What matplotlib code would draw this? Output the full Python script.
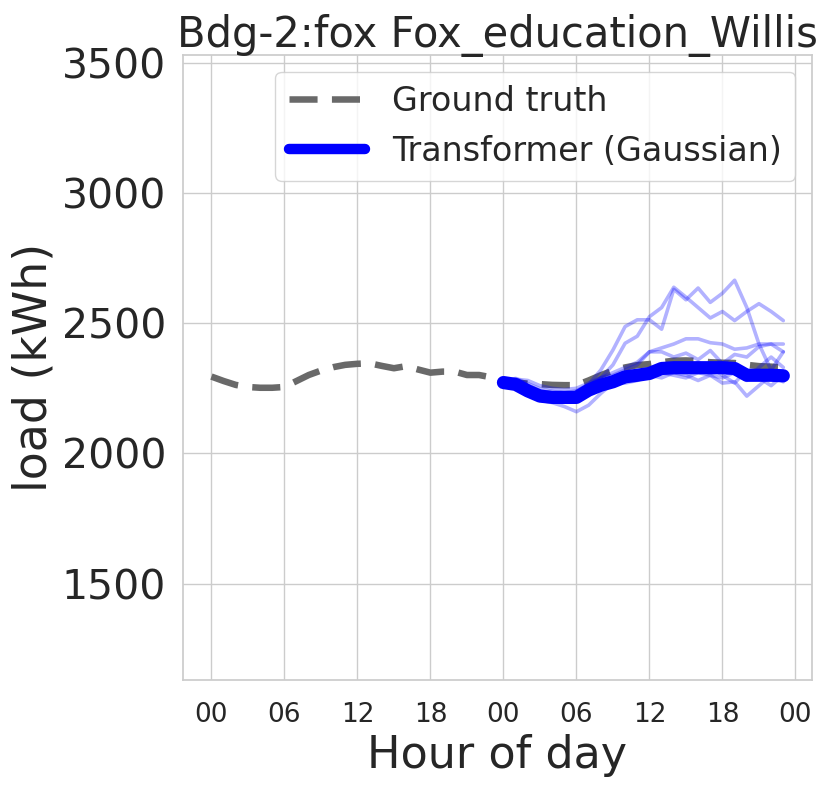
import numpy as np
import seaborn as sns
from matplotlib import pyplot as plt

sns.set_theme(style="whitegrid")
plt.rcParams['font.family'] = ['DejaVu Sans']

title = "Bdg-2:fox Fox_education_Willis"
hour_labels = ["00", "06", "12", "18", "00", "06", "12", "18", "00"]

# ground truth, hours 0..47
truth = [2295, 2278, 2263, 2255, 2252, 2252, 2255, 2278, 2301, 2318, 2331, 2340,
         2344, 2346, 2336, 2327, 2335, 2322, 2310, 2314, 2314, 2301, 2301, 2292,
         2275, 2272, 2268, 2266, 2263, 2262, 2262, 2280, 2300, 2318, 2330, 2339,
         2343, 2350, 2356, 2357, 2355, 2350, 2348, 2347, 2340, 2335, 2333, 2330]

# forecast, hours 24..47
mean = [2272, 2265, 2240, 2220, 2215, 2215, 2215, 2243, 2262, 2275, 2294, 2300,
        2307, 2326, 2329, 2329, 2329, 2329, 2329, 2326, 2300, 2300, 2300, 2298]

samples = [
    [2275, 2288, 2268, 2248, 2238, 2232, 2240, 2265, 2320, 2397, 2487, 2513,
     2513, 2477, 2630, 2590, 2635, 2580, 2615, 2665, 2560, 2420, 2320, 2390],
    [2275, 2280, 2262, 2240, 2232, 2230, 2235, 2260, 2290, 2340, 2423, 2450,
     2525, 2560, 2638, 2600, 2560, 2520, 2545, 2510, 2545, 2575, 2545, 2510],
    [2275, 2270, 2255, 2235, 2225, 2222, 2230, 2260, 2290, 2310, 2330, 2350,
     2390, 2405, 2420, 2440, 2440, 2425, 2420, 2400, 2405, 2420, 2420, 2420],
    [2275, 2285, 2280, 2260, 2250, 2245, 2250, 2270, 2290, 2300, 2320, 2340,
     2390, 2390, 2370, 2385, 2360, 2395, 2345, 2380, 2370, 2410, 2420, 2390],
    [2272, 2260, 2230, 2205, 2195, 2180, 2160, 2185, 2230, 2270, 2300, 2295,
     2290, 2310, 2300, 2290, 2310, 2300, 2270, 2275, 2220, 2260, 2300, 2275],
    [2270, 2265, 2245, 2220, 2210, 2205, 2200, 2230, 2260, 2280, 2270, 2280,
     2300, 2290, 2310, 2300, 2280, 2300, 2290, 2310, 2280, 2330, 2370, 2330],
    [2272, 2275, 2250, 2228, 2220, 2218, 2222, 2250, 2275, 2285, 2300, 2310,
     2315, 2330, 2345, 2320, 2350, 2330, 2300, 2270, 2320, 2290, 2260, 2300],
]

t_truth = np.arange(len(truth))
t_fc = np.arange(24, 24 + len(mean))

fig = plt.figure(figsize=(8.31, 7.86), dpi=100)
ax = fig.add_axes([0.22, 0.135, 0.757, 0.795])

ax.plot(t_truth, truth, color="dimgray", lw=4.7, dashes=(4.3, 2.2),
        label="Ground truth", zorder=2)
for s in samples:
    ax.plot(t_fc, s, color="blue", alpha=0.3, lw=2.6, zorder=3)
ax.plot(t_fc, mean, color="blue", lw=9.5, solid_capstyle="round",
        label="Transformer (Gaussian)", zorder=4)

ax.set_ylim(1130, 3530)
ax.set_xlim(-2.35, 49.35)
ax.set_yticks([1500, 2000, 2500, 3000, 3500])
ax.set_xticks(np.arange(0, 49, 6))
ax.set_xticklabels(hour_labels, fontsize=19)
ax.tick_params(axis="x", pad=10)
ax.tick_params(axis="y", labelsize=29.5, pad=6)
ax.set_xlabel("Hour of day", fontsize=32, labelpad=4)
ax.set_ylabel("load (kWh)", fontsize=33)
ax.set_title(title, fontsize=30, pad=6)
leg = ax.legend(loc="upper right", fontsize=24, handlelength=2.3)
leg.get_lines()[1].set_linewidth(7.5)

plt.savefig("out.png", dpi=100)
